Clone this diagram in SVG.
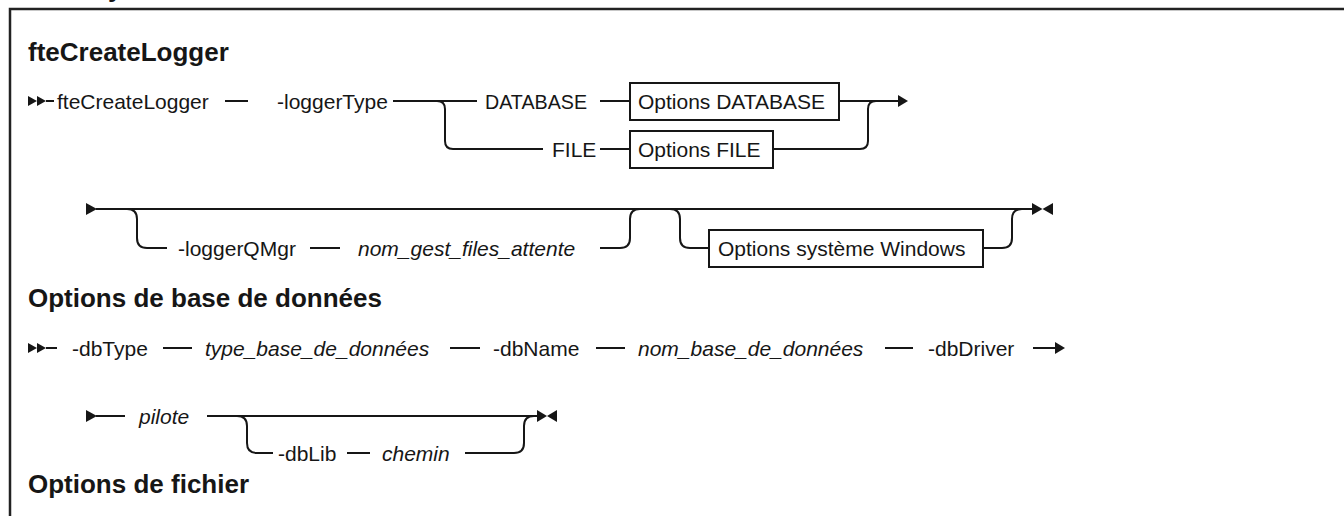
<svg xmlns="http://www.w3.org/2000/svg" width="1344" height="516" viewBox="0 0 1344 516">
<style>
text{font-family:"Liberation Sans",Arial,sans-serif;font-size:21px;fill:#161616}
.h{font-weight:bold;font-size:26px}
.i{font-style:italic}
.ln{fill:none;stroke:#161616;stroke-width:2}
.box{fill:#fff;stroke:#161616;stroke-width:2}
.ah{fill:#161616;stroke:none}
</style>
<rect x="10" y="9" width="1400" height="600" fill="#fff" stroke="#222" stroke-width="2.5"/>
<text class="h" x="108" y="-3">y</text>

<g id="headings">
<text class="h" x="28" y="61">fteCreateLogger</text>
<text class="h" x="28" y="307">Options de base de données</text>
<text class="h" x="28" y="493">Options de fichier</text>
</g>

<g id="connectors">
<!-- row 1 -->
<polygon class="ah" points="28,96 28,106 37,101"/>
<polygon class="ah" points="37,96 37,106 46,101"/>
<line class="ln" x1="46" y1="101" x2="54" y2="101"/>
<line class="ln" x1="225" y1="101" x2="248" y2="101"/>
<line class="ln" x1="393" y1="101" x2="477" y2="101"/>
<path class="ln" d="M437,101 Q445,101 445,109 V141 Q445,149 453,149 H543"/>
<line class="ln" x1="600" y1="101" x2="630" y2="101"/>
<line class="ln" x1="600" y1="149" x2="630" y2="149"/>
<line class="ln" x1="839" y1="101" x2="899" y2="101"/>
<path class="ln" d="M773,149 H860 Q868,149 868,141 V109 Q868,101 876,101"/>
<polygon class="ah" points="898,95 898,107 908,101"/>
<!-- row 2 -->
<polygon class="ah" points="86,203 86,215 97,209"/>
<line class="ln" x1="96" y1="209" x2="1033" y2="209"/>
<path class="ln" d="M127,209 Q137,209 137,219 V238 Q137,248 147,248 H167"/>
<line class="ln" x1="310" y1="248" x2="340" y2="248"/>
<path class="ln" d="M600,248 H620 Q630,248 630,238 V219 Q630,209 640,209"/>
<path class="ln" d="M670,209 Q680,209 680,219 V238 Q680,248 690,248 H709"/>
<path class="ln" d="M983,248 H1002 Q1012,248 1012,238 V219 Q1012,209 1022,209"/>
<polygon class="ah" points="1032,203 1032,215 1042.5,209"/>
<polygon class="ah" points="1053,203 1053,215 1042.5,209"/>
<!-- row 3 -->
<polygon class="ah" points="28,343 28,353 37,348"/>
<polygon class="ah" points="37,343 37,353 46,348"/>
<line class="ln" x1="46" y1="348" x2="57" y2="348"/>
<line class="ln" x1="163" y1="348" x2="192" y2="348"/>
<line class="ln" x1="450" y1="348" x2="480" y2="348"/>
<line class="ln" x1="596" y1="348" x2="625" y2="348"/>
<line class="ln" x1="885" y1="348" x2="913" y2="348"/>
<line class="ln" x1="1033" y1="348" x2="1056" y2="348"/>
<polygon class="ah" points="1055,342 1055,354 1065,348"/>
<!-- row 4 -->
<polygon class="ah" points="86,410 86,422 97,416"/>
<line class="ln" x1="96" y1="416" x2="125" y2="416"/>
<line class="ln" x1="207" y1="416" x2="538" y2="416"/>
<path class="ln" d="M237,416 Q247,416 247,426 V443 Q247,453 257,453 H273"/>
<line class="ln" x1="347" y1="453" x2="370" y2="453"/>
<path class="ln" d="M465,453 H514 Q524,453 524,443 V426 Q524,416 534,416"/>
<polygon class="ah" points="537,410 537,422 547,416"/>
<polygon class="ah" points="557,410 557,422 547,416"/>
</g>

<g id="n-fteCreateLogger"><text x="57" y="108.5">fteCreateLogger</text></g>
<g id="n-loggerType"><text x="277" y="108.5">-loggerType</text></g>
<g id="n-DATABASE"><text x="485" y="108.5" textLength="102" lengthAdjust="spacingAndGlyphs">DATABASE</text></g>
<g id="n-optDATABASE"><rect class="box" x="630" y="83" width="209" height="37"/><text x="638" y="108.5">Options DATABASE</text></g>
<g id="n-FILE"><text x="552" y="156.5">FILE</text></g>
<g id="n-optFILE"><rect class="box" x="630" y="131" width="143" height="37"/><text x="638" y="156.5">Options FILE</text></g>

<g id="n-loggerQMgr"><text x="178" y="255.5">-loggerQMgr</text></g>
<g id="n-nomgest"><text class="i" x="358" y="255.5">nom_gest_files_attente</text></g>
<g id="n-optWindows"><rect class="box" x="709" y="230" width="274" height="37"/><text x="718" y="255.5">Options système Windows</text></g>

<g id="n-dbType"><text x="72" y="355.5">-dbType</text></g>
<g id="n-typebase"><text class="i" x="205" y="355.5">type_base_de_données</text></g>
<g id="n-dbName"><text x="493" y="355.5">-dbName</text></g>
<g id="n-nombase"><text class="i" x="638" y="355.5">nom_base_de_données</text></g>
<g id="n-dbDriver"><text x="928" y="355.5">-dbDriver</text></g>

<g id="n-pilote"><text class="i" x="139" y="423.5">pilote</text></g>
<g id="n-dbLib"><text x="278" y="460.5">-dbLib</text></g>
<g id="n-chemin"><text class="i" x="382" y="460.5">chemin</text></g>
</svg>
